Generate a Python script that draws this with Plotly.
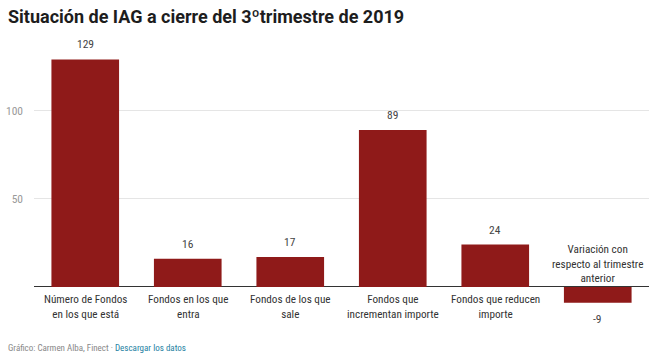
import plotly.graph_objects as go

categories = [
    "Número de Fondos<br>en los que está",
    "Fondos en los que<br>entra",
    "Fondos de los que<br>sale",
    "Fondos que<br>incrementan importe",
    "Fondos que reducen<br>importe",
    "Variación con<br>respecto al trimestre<br>anterior",
]
values = [129, 16, 17, 89, 24, -9]
y_ticks = [50, 100]

BAR = "#8f1a19"
FONT = "Roboto Condensed, Liberation Sans Narrow, Roboto, sans-serif"

fig = go.Figure(go.Bar(
    x=list(range(len(categories))), y=values,
    marker=dict(color=BAR, line=dict(width=0)),
    hoverinfo="skip",
))

ann = []
for i, (c, v) in enumerate(zip(categories, values)):
    ann.append(dict(x=i, y=v, xref="x", yref="y", text=str(v), showarrow=False,
                    yanchor="bottom" if v >= 0 else "top",
                    yshift=6 if v >= 0 else -7,
                    font=dict(family=FONT, size=11.5, color="#444")))
    ann.append(dict(x=i, y=0, xref="x", yref="y", text=c, showarrow=False,
                    yanchor="top" if v >= 0 else "bottom",
                    yshift=-4 if v >= 0 else 0,
                    font=dict(family=FONT, size=11.2, color="#333")))

ann.append(dict(xref="paper", yref="paper", x=-0.045, y=-0.058, xanchor="left", yanchor="middle",
                showarrow=False,
                text="Gráfico: Carmen Alba, Finect · <span style='color:#1d81a2'>Descargar los datos</span>",
                font=dict(family=FONT, size=9, color="#888")))

fig.update_layout(
    width=660, height=355,
    margin=dict(l=34, r=11, t=40, b=24, autoexpand=False),
    paper_bgcolor="white", plot_bgcolor="white",
    bargap=0.34,
    showlegend=False,
    title=dict(text="<b>Situación de IAG a cierre del 3ºtrimestre de 2019</b>",
               x=8/660, xanchor="left", y=1-17/355, yanchor="middle",
               font=dict(family="Roboto, sans-serif", size=18, color="#1d1d1d")),
    xaxis=dict(range=[-0.5, 5.5], showticklabels=False, showgrid=False, zeroline=False,
               showline=False, ticks="", automargin=False),
    yaxis=dict(range=[-25, 140], tickvals=y_ticks, ticktext=[str(t) for t in y_ticks],
               showgrid=True, gridcolor="#e5e5e5", gridwidth=1,
               zeroline=True, zerolinecolor="#333", zerolinewidth=1,
               ticks="", ticklabelstandoff=10, automargin=False,
               tickfont=dict(family=FONT, size=11.5, color="#999")),
    annotations=ann,
)

fig.write_html("out.html", config={"displayModeBar": False},
               post_script="document.body.style.margin='0';document.body.style.overflow='hidden';")
